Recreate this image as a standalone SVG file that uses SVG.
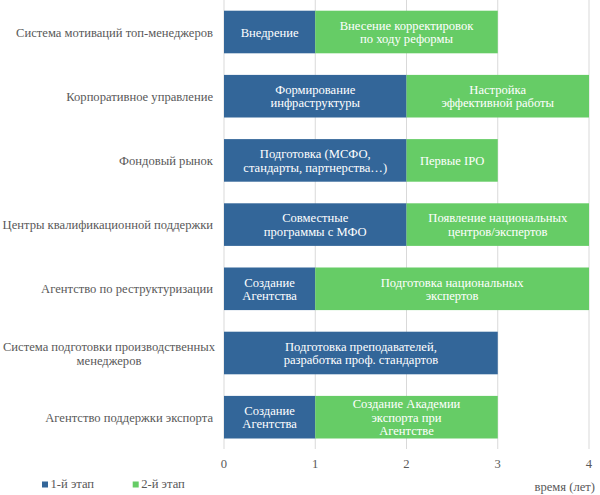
<svg xmlns="http://www.w3.org/2000/svg" width="600" height="495" viewBox="0 0 600 495">
<style>
text{font-family:"Liberation Serif",serif;font-size:12.6px}
.lbl{fill:#595959;text-anchor:end}
.lblc{fill:#595959;text-anchor:middle}
.ax{fill:#595959;text-anchor:middle}
.bt{fill:#ffffff;text-anchor:middle}
.s1{fill:#336699}
.s2{fill:#66cc66}
.grid line{stroke:#d9d9d9;stroke-width:1}
</style>
<rect width="600" height="495" fill="#ffffff"/>
<g id="grid" class="grid">
<line x1="224" y1="0" x2="224" y2="449"/>
<line x1="315.25" y1="0" x2="315.25" y2="449"/>
<line x1="406.5" y1="0" x2="406.5" y2="449"/>
<line x1="497.75" y1="0" x2="497.75" y2="449"/>
<line x1="589" y1="0" x2="589" y2="449"/>
</g>
<g id="connectors"></g>
<g id="row1" font-family="Liberation Serif">
<text class="lbl" x="213" y="36.5">Система мотиваций топ-менеджеров</text>
<rect class="s1" x="224" y="10.7" width="91.25" height="42.6"/>
<rect class="s2" x="315.25" y="10.7" width="182.5" height="42.6"/>
<text class="bt" x="269.6" y="36.5">Внедрение</text>
<text class="bt" x="406.5" y="29.75">Внесение корректировок</text>
<text class="bt" x="406.5" y="43.25">по ходу реформы</text>
</g>
<g id="row2">
<text class="lbl" x="213" y="100.7">Корпоративное управление</text>
<rect class="s1" x="224" y="74.9" width="182.5" height="42.6"/>
<rect class="s2" x="406.5" y="74.9" width="182.5" height="42.6"/>
<text class="bt" x="315.25" y="93.95">Формирование</text>
<text class="bt" x="315.25" y="107.45">инфраструктуры</text>
<text class="bt" x="497.75" y="93.95">Настройка</text>
<text class="bt" x="497.75" y="107.45">эффективной работы</text>
</g>
<g id="row3">
<text class="lbl" x="213" y="164.9">Фондовый рынок</text>
<rect class="s1" x="224" y="139.1" width="182.5" height="42.6"/>
<rect class="s2" x="406.5" y="139.1" width="91.25" height="42.6"/>
<text class="bt" x="315.25" y="158.15">Подготовка (МСФО,</text>
<text class="bt" x="315.25" y="171.65">стандарты, партнерства…)</text>
<text class="bt" x="452.1" y="164.9">Первые IPO</text>
</g>
<g id="row4">
<text class="lbl" x="213" y="229.1">Центры квалификационной поддержки</text>
<rect class="s1" x="224" y="203.3" width="182.5" height="42.6"/>
<rect class="s2" x="406.5" y="203.3" width="182.5" height="42.6"/>
<text class="bt" x="315.25" y="222.35">Совместные</text>
<text class="bt" x="315.25" y="235.85">программы с МФО</text>
<text class="bt" x="497.75" y="222.35">Появление национальных</text>
<text class="bt" x="497.75" y="235.85">центров/экспертов</text>
</g>
<g id="row5">
<text class="lbl" x="213" y="293.3">Агентство по реструктуризации</text>
<rect class="s1" x="224" y="267.5" width="91.25" height="42.6"/>
<rect class="s2" x="315.25" y="267.5" width="273.75" height="42.6"/>
<text class="bt" x="269.6" y="286.55">Создание</text>
<text class="bt" x="269.6" y="300.05">Агентства</text>
<text class="bt" x="452.1" y="286.55">Подготовка национальных</text>
<text class="bt" x="452.1" y="300.05">экспертов</text>
</g>
<g id="row6">
<text class="lblc" x="109" y="351">Система подготовки производственных</text>
<text class="lblc" x="109" y="364.5">менеджеров</text>
<rect class="s1" x="224" y="331.7" width="273.75" height="42.6"/>
<text class="bt" x="360.9" y="350.75">Подготовка преподавателей,</text>
<text class="bt" x="360.9" y="364.25">разработка проф. стандартов</text>
</g>
<g id="row7">
<text class="lbl" x="213" y="421.7">Агентство поддержки экспорта</text>
<rect class="s1" x="224" y="395.9" width="91.25" height="42.6"/>
<rect class="s2" x="315.25" y="395.9" width="182.5" height="42.6"/>
<text class="bt" x="269.6" y="414.95">Создание</text>
<text class="bt" x="269.6" y="428.45">Агентства</text>
<text class="bt" x="406.5" y="408.2">Создание Академии</text>
<text class="bt" x="406.5" y="421.7">экспорта при</text>
<text class="bt" x="406.5" y="435.2">Агентстве</text>
</g>
<g id="axis">
<text class="ax" x="224" y="468">0</text>
<text class="ax" x="315.25" y="468">1</text>
<text class="ax" x="406.5" y="468">2</text>
<text class="ax" x="497.75" y="468">3</text>
<text class="ax" x="589" y="468">4</text>
<text class="lbl" x="595" y="491">время (лет)</text>
</g>
<g id="legend">
<rect class="s1" x="42" y="481.5" width="6" height="6"/>
<text x="50.5" y="488" fill="#595959">1-й этап</text>
<rect class="s2" x="132.7" y="481.5" width="6" height="6"/>
<text x="141.2" y="488" fill="#595959">2-й этап</text>
</g>
</svg>
